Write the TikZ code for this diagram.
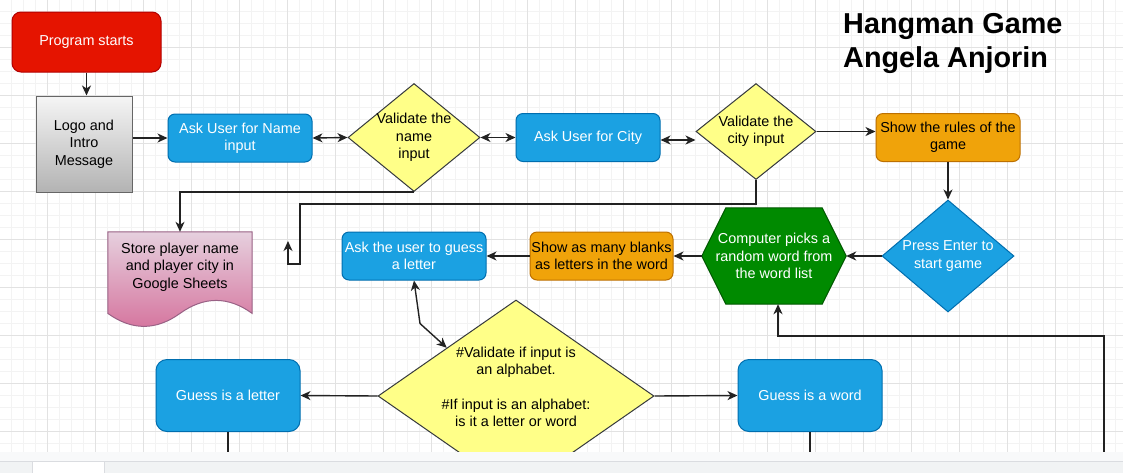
\documentclass[tikz,border=0pt]{standalone}
\usepackage{fontspec}
\setmainfont{Liberation Sans}
\usetikzlibrary{shapes.geometric,arrows.meta}
\definecolor{redfill}{HTML}{E51400}
\definecolor{redline}{HTML}{B20000}
\definecolor{bluefill}{HTML}{1BA1E2}
\definecolor{blueline}{HTML}{006EAF}
\definecolor{yellowfill}{HTML}{FFFF88}
\definecolor{yellowline}{HTML}{36393D}
\definecolor{orangefill}{HTML}{F0A30A}
\definecolor{orangeline}{HTML}{BD7000}
\definecolor{greenfill}{HTML}{008A00}
\definecolor{greenline}{HTML}{005700}
\definecolor{greytop}{HTML}{F5F5F5}
\definecolor{greybottom}{HTML}{B3B3B3}
\definecolor{greyline}{HTML}{666666}
\definecolor{pinktop}{HTML}{E6D0DE}
\definecolor{pinkbottom}{HTML}{D5739D}
\definecolor{pinkline}{HTML}{996185}
\definecolor{gridminor}{HTML}{F3F3F3}
\definecolor{gridmajor}{HTML}{E2E2E2}
\definecolor{flowline}{HTML}{222222}
\definecolor{stripfill}{HTML}{F8F9FA}
\definecolor{barfill}{HTML}{F1F3F4}
\definecolor{barline}{HTML}{DADCE0}
\pgfdeclarelayer{back}
\pgfsetlayers{back,main}
\tikzset{
	box/.style      = {draw, rectangle, rounded corners=7pt, line width=1pt,
		minimum width=144pt, minimum height=48pt, inner sep=0pt, align=center},
	startbox/.style = {box, fill=redfill, draw=redline, text=white,
		minimum width=149pt, minimum height=60pt, rounded corners=9pt},
	logobox/.style  = {box, sharp corners, top color=greytop, bottom color=greybottom,
		draw=greyline, minimum width=96pt, minimum height=96pt},
	inputbox/.style = {box, fill=bluefill, draw=blueline, text=white},
	infobox/.style  = {box, fill=orangefill, draw=orangeline},
	guessbox/.style = {inputbox, minimum height=72pt, rounded corners=11pt},
	decision/.style = {diamond, draw=yellowline, fill=yellowfill, line width=1pt,
		inner sep=-14pt, align=center},
	textonly/.style = {rectangle, inner sep=0pt, align=center},
	flow/.style     = {draw=flowline, line width=1.4pt},
	gridline/.style = {line width=1pt}
}

\begin{document}
\begin{tikzpicture}[x=1pt, y=-1pt, >={Stealth[length=10pt,width=9pt,inset=3pt]},
	every node/.style={font=\fontsize{14.4}{17.28}\selectfont}]
	\useasboundingbox (0,0) rectangle (1123,472);
	\begin{pgfonlayer}{back}
	\fill[white] (0,0) rectangle (1123,452);
	\foreach \k in {0,...,94} \draw[gridline, gridminor] (\k*12-0.5,0) -- (\k*12-0.5,452);
	\foreach \k in {0,...,38} \draw[gridline, gridminor] (0,\k*12-0.5) -- (1123,\k*12-0.5);
	\foreach \k in {0,...,24} \draw[gridline, gridmajor] (\k*48-0.5,0) -- (\k*48-0.5,452);
	\foreach \k in {0,...,9} \draw[gridline, gridmajor] (0,\k*48-0.5) -- (1123,\k*48-0.5);
	\end{pgfonlayer}

	\draw
	node at (86.5,42) [startbox] (prog) {Program starts}
	node at (84,144) [logobox] (logo) {Logo and\\Intro\\Message}
	node at (240,138) [inputbox] (askname) {Ask User for Name\\input}
	node at (414,137.5) [decision, minimum width=132pt, minimum height=108pt] (d1) {Validate the\\name\\input}
	node at (588,137.5) [inputbox] (city) {Ask User for City}
	node at (756,131.5) [decision, minimum width=120pt, minimum height=96pt] (d2) {Validate the\\city input}
	node at (948,137.5) [infobox] (rules) {Show the rules of the\\game}
	node at (948,256) [decision, fill=bluefill, draw=blueline, text=white,
		minimum width=132pt, minimum height=112pt] (enter) {Press Enter to\\start game}
	node at (774,256) [textonly, minimum width=144pt, minimum height=96pt, text=white] (hex)
		{Computer picks a\\random word from\\the word list}
	node at (601.5,256) [infobox, minimum width=143pt] (blanks) {Show as many blanks\\as letters in the word}
	node at (414,256) [inputbox] (guess) {Ask the user to guess\\a letter}
	node at (180,267) [textonly, minimum width=144pt, minimum height=70pt] (store)
		{Store player name\\and player city in\\Google Sheets}
	node at (516,396) [decision, minimum width=276pt, minimum height=192pt,
		label={[align=center, yshift=9pt]center:\#Validate if input is\\an alphabet.\\\\\#If input is an alphabet:\\is it a letter or word}] (big) {}
	node at (228,395.5) [guessbox] (letter) {Guess is a letter}
	node at (810,395.5) [guessbox] (word) {Guess is a word}
	node at (843,13.5) [anchor=north west, inner sep=0pt, align=left,
		font=\bfseries\fontsize{28.8}{33.3}\selectfont] (title) {Hangman Game\\Angela Anjorin};

	\begin{pgfonlayer}{back}
	\path[draw=greenline, fill=greenfill, line width=1pt]
		(hex.west) -- ([xshift=24pt]hex.north west) -- ([xshift=-24pt]hex.north east)
		-- (hex.east) -- ([xshift=-24pt]hex.south east) -- ([xshift=24pt]hex.south west) -- cycle;
	\path[draw=pinkline, top color=pinktop, bottom color=pinkbottom, line width=1pt]
		(store.north west) -- (store.north east) -- ([yshift=-81.6pt]store.north east)
		.. controls ([xshift=-24pt,yshift=-64.3pt]store.north east) and ([xshift=-48pt,yshift=-64.3pt]store.north east) .. ([yshift=-81.6pt]store.north)
		.. controls ([xshift=-24pt,yshift=-98.9pt]store.north) and ([xshift=-48pt,yshift=-98.9pt]store.north) .. ([yshift=-81.6pt]store.north west)
		-- cycle;
	\end{pgfonlayer}

	\coordinate (loose) at (288,241);
	\coordinate (loopend) at (1104,452);

	\draw[flow,->](prog.south)--(prog.south |- logo.north);
	\draw[flow,->](logo.east |- askname.west)--(askname.west);
	\draw[flow,<->](askname.east)--(d1.west);
	\draw[flow,<->](d1.east)--(city.west);
	\draw[flow,<->]([yshift=-2.5pt]city.east)--([yshift=-2.5pt]city.east -| d2.west);
	\draw[flow,->](d2.east)--(d2.east -| rules.west);
	\draw[flow,->](rules.south)--(enter.north);
	\draw[flow,->](enter.west)--(hex.east);
	\draw[flow,->](hex.west)--(blanks.east);
	\draw[flow,->](blanks.west)--(guess.east);
	\draw[flow,->](d1.south)-|(store.north);
	\draw[flow,->](d2.south)--++(0,24)-|++(-456,60)-|(loose);
	\draw[flow,<->](guess.south)--++(6,43)--(big.north west);
	\draw[flow,->](big.west)--(letter.east);
	\draw[flow,->](big.east)--(word.west);
	\draw[flow](letter.south)--(letter.south |- loopend);
	\draw[flow](word.south)--(word.south |- loopend);
	\draw[flow,->](loopend)|-++(-326,-116)--([xshift=4pt]hex.south);

	\fill[stripfill] (0,452) rectangle (1123,461);
	\fill[barfill] (0,461) rectangle (1123,500);
	\draw[barline, line width=1pt] (0,461.5) -- (1123,461.5);
	\fill[white] (32,462) rectangle (104,500);
	\draw[barline, line width=1pt] (32,462) -- (32,500) (104,462) -- (104,500);
\end{tikzpicture}
\end{document}
